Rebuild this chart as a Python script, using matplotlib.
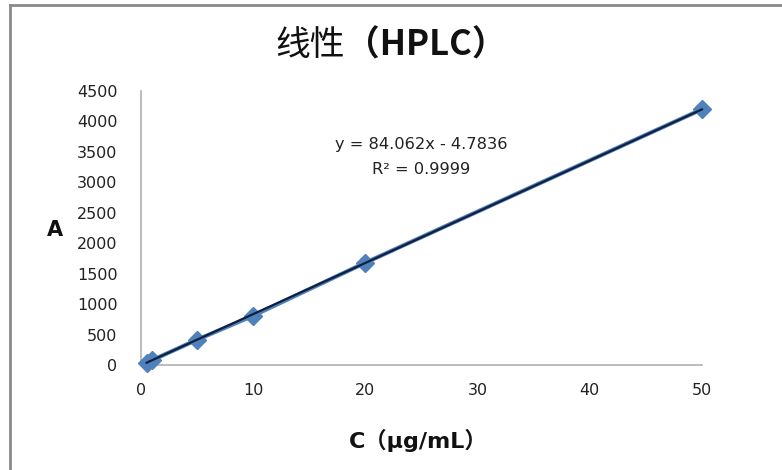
import matplotlib
matplotlib.use("Agg")
import matplotlib.pyplot as plt
from matplotlib.lines import Line2D

plt.rcParams['font.family'] = ['DejaVu Sans', 'Noto Sans CJK SC']

conc = [0.5, 1, 5, 10, 20, 50]
area = [40, 80, 415, 810, 1680, 4200]
slope = 84.062
intercept = -4.7836
x_ticks = [0, 10, 20, 30, 40, 50]
y_ticks = list(range(0, 4501, 500))

W, H = 782, 470
fig = plt.figure(figsize=(W / 100, H / 100), dpi=100)
ax = fig.add_axes([141 / W, 1 - 365 / H, (702 - 141) / W, (365 - 91) / H])

ax.plot(conc, area, color='#4f81bd', lw=3, marker='D', ms=9, mec='#4f81bd', mfc='#4f81bd',
        zorder=3, clip_on=False)
tx = [conc[0], conc[-1]]
ty = [slope * v + intercept for v in tx]
ax.plot(tx, ty, color='#0f1f3d', lw=1.6, zorder=4, clip_on=False)

ax.set_xlim(0, 50)
ax.set_ylim(0, 4500)
ax.set_xticks(x_ticks)
ax.set_yticks(y_ticks)
ax.tick_params(axis='y', length=0, labelsize=11.5, colors='#222222', pad=17)
ax.tick_params(axis='x', length=0, labelsize=11.5, colors='#222222', pad=13)
for s in ['top', 'right']:
    ax.spines[s].set_visible(False)
for s in ['left', 'bottom']:
    ax.spines[s].set_color('#b0b0b0')
    ax.spines[s].set_linewidth(1.2)

ax.text(0.5, 0.805, 'y = 84.062x - 4.7836', transform=ax.transAxes, ha='center', va='center',
        fontsize=11.7, color='#222222')
ax.text(0.5, 0.715, 'R² = 0.9999', transform=ax.transAxes, ha='center', va='center',
        fontsize=11.7, color='#222222')

# Title: Chinese normal, HPLC bold
fig.text(345 / W, 1 - 45 / H, '线性', ha='right', va='center', fontsize=25, color='#111111',
         family=['Noto Sans CJK SC'])
fig.text(345 / W, 1 - 45 / H, '（HPLC）', ha='left', va='center', fontsize=25,
         fontweight='bold', color='#111111', family=['Noto Sans CJK SC'])

fig.text(55 / W, 1 - 230 / H, 'A', ha='center', va='center', fontsize=15, fontweight='bold', color='#111111')
fig.text(418 / W, 1 - 440 / H, 'C（μg/mL）', ha='center', va='center', fontsize=16,
         fontweight='bold', color='#111111')

# Chart border
fig.add_artist(Line2D([10 / W, 10 / W], [0, 1 - 5 / H], transform=fig.transFigure, color='#8a8a8a', lw=2))
fig.add_artist(Line2D([10 / W, 1], [1 - 5 / H, 1 - 5 / H], transform=fig.transFigure, color='#8a8a8a', lw=2))

fig.savefig('out.png', dpi=100)
